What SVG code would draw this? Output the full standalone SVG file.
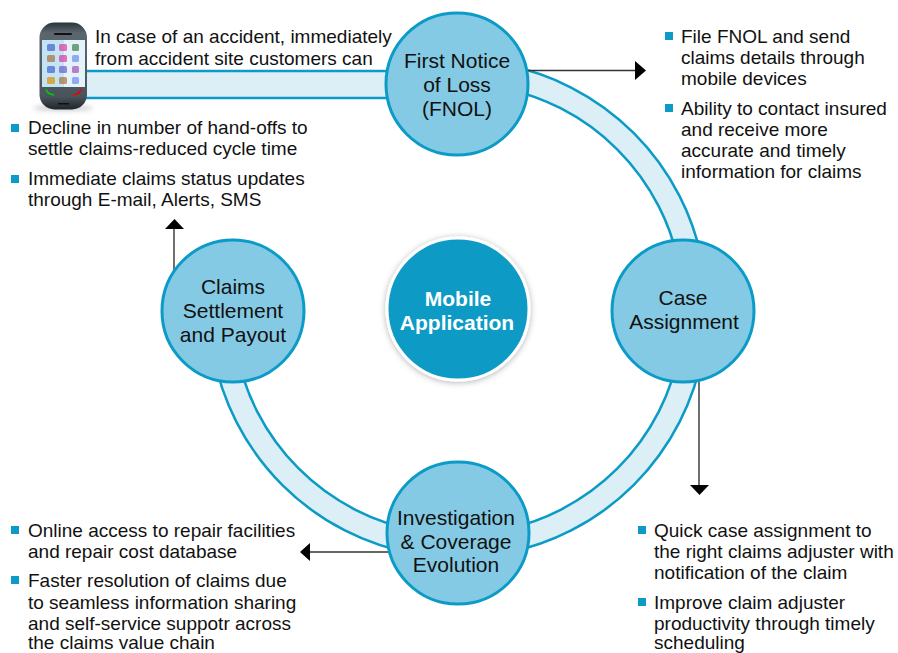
<svg xmlns="http://www.w3.org/2000/svg" width="898" height="653" viewBox="0 0 898 653">
<defs>
<style>
text{font-family:"Liberation Sans",Arial,sans-serif;font-size:19px;fill:#111}
.n{fill:#85cae4;stroke:#0b9bc6;stroke-width:3}
.c{text-anchor:middle;font-size:21px}
.b{fill:#0b9bc6}
.band{fill:#dceef6;stroke:#0b9bc6;stroke-width:2.5}
.ln{fill:none;stroke:#333;stroke-width:1.4}
.ah{fill:#000}
.app{fill-opacity:.7}
</style>
<filter id="sh" x="-20%" y="-20%" width="140%" height="140%"><feDropShadow dx="0" dy="1" stdDeviation="3" flood-color="#000" flood-opacity=".3"/></filter>
<filter id="bl" x="-20%" y="-200%" width="140%" height="500%"><feGaussianBlur stdDeviation="2.500"/></filter>
<linearGradient id="ph" x1="0" y1="0" x2="0" y2="1"><stop offset="0" stop-color="#27343c"/><stop offset=".12" stop-color="#5c666e"/><stop offset=".85" stop-color="#4a545c"/><stop offset="1" stop-color="#1d262c"/></linearGradient>
</defs>
<g id="connectors">
<path class="band" d="M85 71H400V98H85Z"/>
<path class="band" d="M501 64A249 249 0 0 1 703 266L680 270A225 225 0 0 0 497 87Z"/>
<path class="band" d="M703 352A249 249 0 0 1 501 554L497 531A225 225 0 0 0 680 348Z"/>
<path class="band" d="M415 554A249 249 0 0 1 213 352L236 348A225 225 0 0 0 419 531Z"/>
<path class="ln" d="M528 70.500H636"/><path class="ah" d="M635 61L646 70.500L635 80Z"/>
<path class="ln" d="M699 378V485"/><path class="ah" d="M690 485H709L699.500 495Z"/>
<path class="ln" d="M390 552H309"/><path class="ah" d="M310 543L300 552L310 561Z"/>
<path class="ln" d="M174 272V228"/><path class="ah" d="M165 229H184L174.500 219Z"/>
</g>
<g id="phone">
<ellipse cx="63" cy="108" rx="30" ry="2.500" fill="#888" opacity=".5" filter="url(#bl)"/>
<rect x="39.500" y="22.500" width="47.500" height="87" rx="15" fill="url(#ph)"/>
<rect x="42" y="40" width="43" height="47" fill="#c4e4f6"/>
<rect x="64" y="40" width="21" height="47" fill="#e4f3fb"/>
<rect x="54" y="33" width="18" height="2" rx="1" fill="#111"/><rect x="58" y="103" width="11" height="1.500" fill="#111"/>
<g class="app"><rect x="47" y="44" width="8" height="7" rx="1.500" fill="#3f63cc"/><rect x="59" y="44" width="8" height="7" rx="1.500" fill="#d93c9c"/><rect x="72" y="44" width="7" height="7" rx="1.500" fill="#3d7f47"/>
<rect x="47" y="55" width="8" height="7" rx="1.500" fill="#a86f3d"/><rect x="59" y="55" width="8" height="7" rx="1.500" fill="#d93c9c"/><rect x="72" y="55" width="7" height="7" rx="1.500" fill="#6a8cf0"/>
<rect x="47" y="66" width="8" height="7" rx="1.500" fill="#3f63cc"/><rect x="59" y="66" width="8" height="7" rx="1.500" fill="#6a5cc8"/><rect x="72" y="66" width="7" height="7" rx="1.500" fill="#a84db0"/>
<rect x="47" y="77" width="8" height="7" rx="1.500" fill="#dc9000"/><rect x="59" y="77" width="8" height="7" rx="1.500" fill="#a8713f"/><rect x="72" y="77" width="7" height="7" rx="1.500" fill="#6a8cf0"/></g>
<path d="M46 89Q47 94 54 95" fill="none" stroke="#0c0" stroke-width="1.500"/><path d="M81 89Q80 94 73 95" fill="none" stroke="#e00" stroke-width="1.500"/>
</g>
<g id="node-fnol"><circle class="n" cx="457" cy="84" r="71"/><text class="c" x="457" y="68">First Notice</text><text class="c" x="457" y="92">of Loss</text><text class="c" x="457" y="116">(FNOL)</text></g>
<g id="node-case"><circle class="n" cx="683" cy="311" r="71"/><text class="c" x="683" y="305">Case</text><text class="c" x="684" y="329">Assignment</text></g>
<g id="node-investigation"><circle class="n" cx="458" cy="533" r="71"/><text class="c" x="456" y="525">Investigation</text><text class="c" x="456" y="549">&amp; Coverage</text><text class="c" x="456" y="572">Evolution</text></g>
<g id="node-settlement"><circle class="n" cx="233" cy="311" r="71"/><text class="c" x="233" y="294">Claims</text><text class="c" x="233" y="318">Settlement</text><text class="c" x="233" y="342">and Payout</text></g>
<g id="node-mobile"><circle cx="458" cy="309" r="71" fill="#0b9bc6" stroke="#fff" stroke-width="3" filter="url(#sh)"/><text class="c" x="458" y="306" style="fill:#fff;font-weight:bold">Mobile</text><text class="c" x="457" y="330" style="fill:#fff;font-weight:bold">Application</text></g>
<g id="notes">
<text x="95" y="43">In case of an accident, immediately</text>
<text x="95" y="65">from accident site customers can</text>
<rect class="b" x="11" y="124" width="8" height="8"/><text x="28" y="134">Decline in number of hand-offs to</text><text x="28" y="155">settle claims-reduced cycle time</text>
<rect class="b" x="11" y="175" width="8" height="8"/><text x="28" y="185">Immediate claims status updates</text><text x="28" y="206">through E-mail, Alerts, SMS</text>
<rect class="b" x="665" y="32" width="8" height="8"/><text x="681" y="43">File FNOL and send</text><text x="681" y="64">claims details through</text><text x="681" y="85">mobile devices</text>
<rect class="b" x="665" y="104" width="8" height="8"/><text x="681" y="115">Ability to contact insured</text><text x="681" y="136">and receive more</text><text x="681" y="157">accurate and timely</text><text x="681" y="178">information for claims</text>
<rect class="b" x="638" y="526" width="8" height="8"/><text x="654" y="537">Quick case assignment to</text><text x="654" y="558">the right claims adjuster with</text><text x="654" y="579">notification of the claim</text>
<rect class="b" x="638" y="598" width="8" height="8"/><text x="654" y="609">Improve claim adjuster</text><text x="654" y="630">productivity through timely</text><text x="654" y="649">scheduling</text>
<rect class="b" x="11" y="526" width="8" height="8"/><text x="28" y="537">Online access to repair facilities</text><text x="28" y="558">and repair cost database</text>
<rect class="b" x="11" y="576" width="8" height="8"/><text x="28" y="587">Faster resolution of claims due</text><text x="28" y="609">to seamless information sharing</text><text x="28" y="630">and self-service suppotr across</text><text x="28" y="649">the claims value chain</text>
</g>
</svg>
